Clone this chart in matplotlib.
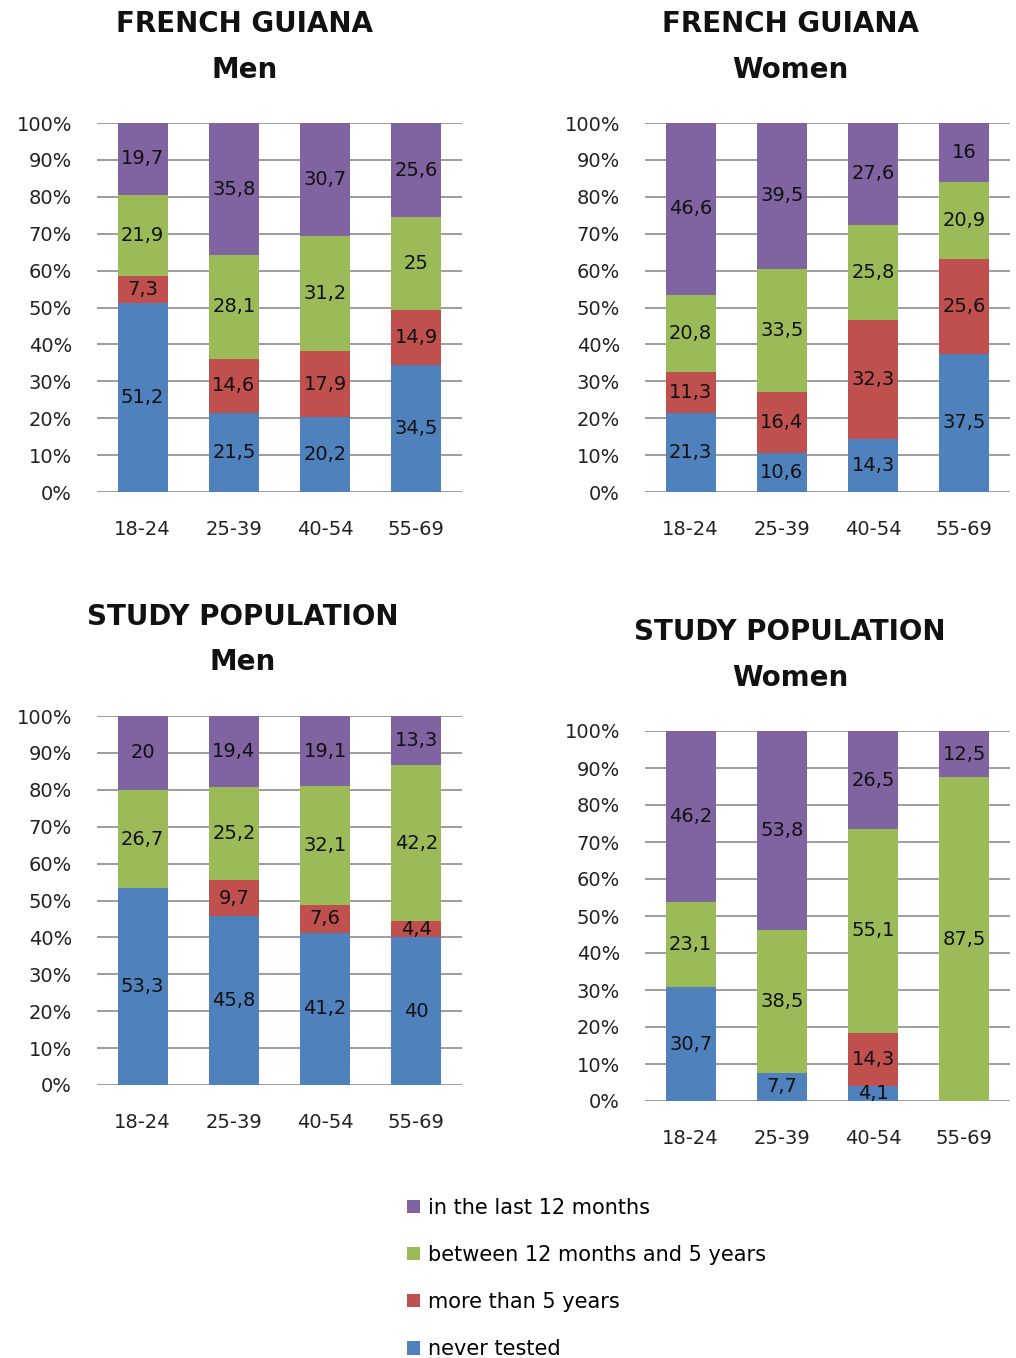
import numpy as np
import matplotlib
matplotlib.use('Agg')
import matplotlib.pyplot as plt

ages = ['18-24', '25-39', '40-54', '55-69']
series = ['never tested', 'more than 5 years', 'between 12 months and 5 years', 'in the last 12 months']
colors = ['#4F81BD', '#C0504D', '#9BBB59', '#8064A2']

# values per panel, stacked bottom -> top: never, >5y, 12m-5y, last 12m
fg_men_never = [51.2, 21.5, 20.2, 34.5]
fg_men_more5 = [7.3, 14.6, 17.9, 14.9]
fg_men_between = [21.9, 28.1, 31.2, 25]
fg_men_last12 = [19.7, 35.8, 30.7, 25.6]

fg_women_never = [21.3, 10.6, 14.3, 37.5]
fg_women_more5 = [11.3, 16.4, 32.3, 25.6]
fg_women_between = [20.8, 33.5, 25.8, 20.9]
fg_women_last12 = [46.6, 39.5, 27.6, 16]

sp_men_never = [53.3, 45.8, 41.2, 40]
sp_men_more5 = [0, 9.7, 7.6, 4.4]
sp_men_between = [26.7, 25.2, 32.1, 42.2]
sp_men_last12 = [20, 19.4, 19.1, 13.3]

sp_women_never = [30.7, 7.7, 4.1, 0]
sp_women_more5 = [0, 0, 14.3, 0]
sp_women_between = [23.1, 38.5, 55.1, 87.5]
sp_women_last12 = [46.2, 53.8, 26.5, 12.5]

W, H = 1016, 1358
fig = plt.figure(figsize=(W / 100, H / 100), dpi=100)


def px_axes(left, right, top, bottom):
    return fig.add_axes([left / W, 1 - bottom / H, (right - left) / W, (bottom - top) / H])


def draw(ax, data):
    X = np.arange(len(ages))
    bottom = np.zeros(len(ages))
    bars = []
    for vals, c in zip(data, colors):
        vals = np.array(vals, dtype=float)
        b = ax.bar(X, vals, 0.55, bottom=bottom, color=c, zorder=2)
        bars.append(b)
        for x, v, b0 in zip(X, vals, bottom):
            if v > 0:
                ax.text(x, b0 + v / 2, ('%g' % v).replace('.', ','), ha='center', va='center',
                        fontsize=14, color='#111111', zorder=3)
        bottom = bottom + vals
    ax.set_xlim(-0.5, 3.5)
    ax.set_ylim(0, 100)
    ax.set_yticks(np.arange(0, 101, 10))
    ax.set_yticklabels(['%d%%' % t for t in range(0, 101, 10)])
    ax.set_xticks(X)
    ax.set_xticklabels(ages)
    ax.grid(axis='y', color='#8C8C8C', linewidth=1.2, zorder=0)
    ax.set_axisbelow(True)
    for s in ax.spines.values():
        s.set_visible(False)
    ax.tick_params(axis='y', length=0, pad=18, labelsize=14, colors='#222222')
    ax.tick_params(axis='x', length=0, pad=20, labelsize=14, colors='#222222')
    return bars


ax1 = px_axes(97, 462, 123, 492)
bars = draw(ax1, [fg_men_never, fg_men_more5, fg_men_between, fg_men_last12])
ax2 = px_axes(645, 1010, 123, 492)
draw(ax2, [fg_women_never, fg_women_more5, fg_women_between, fg_women_last12])
ax3 = px_axes(97, 462, 716, 1085)
draw(ax3, [sp_men_never, sp_men_more5, sp_men_between, sp_men_last12])
ax4 = px_axes(645, 1010, 731, 1101)
draw(ax4, [sp_women_never, sp_women_more5, sp_women_between, sp_women_last12])

tkw = dict(ha='center', va='center', fontsize=20, fontweight='bold', color='#111111')
fig.text(245 / W, 1 - 24 / H, 'FRENCH GUIANA', **tkw)
fig.text(245 / W, 1 - 70 / H, 'Men', **tkw)
fig.text(790 / W, 1 - 24 / H, 'FRENCH GUIANA', **tkw)
fig.text(790 / W, 1 - 70 / H, 'Women', **tkw)
fig.text(243 / W, 1 - 617 / H, 'STUDY POPULATION', **tkw)
fig.text(243 / W, 1 - 662 / H, 'Men', **tkw)
fig.text(790 / W, 1 - 632 / H, 'STUDY POPULATION', **tkw)
fig.text(790 / W, 1 - 678 / H, 'Women', **tkw)

fig.legend([bars[3], bars[2], bars[1], bars[0]], series[::-1],
           loc='upper left', bbox_to_anchor=(407 / W, 1 - 1198 / H),
           frameon=False, fontsize=15, borderpad=0, borderaxespad=0,
           handlelength=0.6, handleheight=0.6, handletextpad=0.4, labelspacing=1.3)

fig.savefig('out.png', dpi=100)
